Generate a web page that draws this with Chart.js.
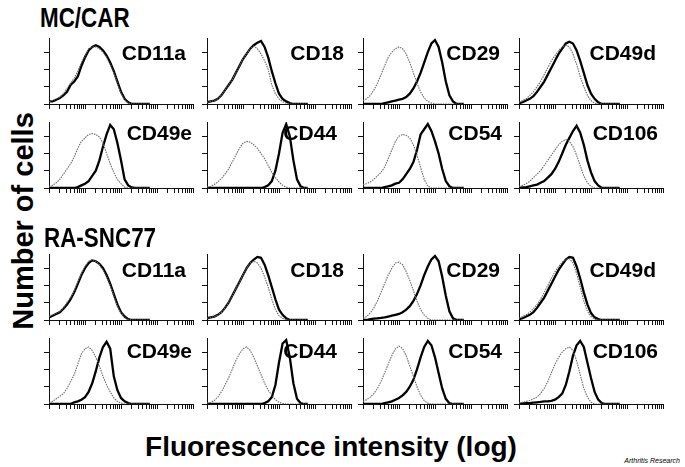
<!DOCTYPE html>
<html><head><meta charset="utf-8">
<script src="https://cdn.jsdelivr.net/npm/chart.js@4/dist/chart.umd.min.js"></script>
<style>
body{margin:0;background:#fff;width:685px;height:467px;overflow:hidden;position:relative;font-family:"Liberation Sans",Arial,sans-serif;}
canvas.p{position:absolute;}
.t{position:absolute;font-weight:bold;color:#000;white-space:nowrap;line-height:1;}
</style></head><body>
<script>
// log10 fluorescence bin centres (decades)
const bins = [0,0.1,0.2,0.3,0.4,0.5,0.6,0.7,0.8,0.9,1.0,1.1,1.2,1.3,1.4,1.5,1.6,1.7,1.8,1.9,2.0,2.1,2.2,2.3,2.4,2.5,2.6,2.7,2.8];
const decades = [1,10,100,1000];
const minorSteps = [1,2,3,4,5,6,7,8,9];
const yTickValues = [0,10,20,30];
const markers = ["CD11a","CD18","CD29","CD49d","CD49e","CD44","CD54","CD106"];
const groups = ["MC/CAR","RA-SNC77"];

// MC/CAR  (control = grey, stained = black)
const mc_CD11a_ctrl  = [1.5,2,3,4,6,9,12,15,19,24,28,32,33,33,32,30,27,23,18,12,6,2.5,0.5,0,0,0,0,0,0];
const mc_CD11a_stain = [1.5,1.5,2.5,3.5,5,7,11,13,16,22,27,31,33,34,33,31,28,24,19,13,7,3,1,0,0,0,0,0,0];
const mc_CD18_ctrl   = [1,1.5,2,3,5,8,11,14,18,22,26,29,32,33.5,32,29,25,20,11,6,3,1.3,0.5,0,0,0,0,0,0];
const mc_CD18_stain  = [1,1.5,2,3,5,8,11,14,18,22,26,29,32,34,35.5,36.5,33,27,19,12,6,3,1.5,0.5,0,0,0,0,0];
const mc_CD29_ctrl   = [2,3,5,8,12,17,22,27,30,32,33,32,29,24,18,12,7,3.5,1.5,0.5,0,0,0,0,0,0,0,0,0];
const mc_CD29_stain  = [0,0,0,0,0,0,0.5,1,1.5,2,2.5,3,4,6,9,13,18,24,30,35,37,33,24,13,5,1.5,0,0,0];
const mc_CD49d_ctrl  = [1,2,3,5,7,10,13,17,21,25,28,31,33,34,33,29,23,16,10,5,2,0.5,0,0,0,0,0,0,0];
const mc_CD49d_stain = [0.5,1,2,3,4.5,7,10,13,17,21,25,29,32,35,36,35,31,25,18,11,6,3,1,0,0,0,0,0,0];
const mc_CD49e_ctrl  = [1,1.5,3,5,8,11,14,18,23,27,29,31,31.5,31,29.5,26,20,14,9,5,2.5,0.5,0,0,0,0,0,0,0];
const mc_CD49e_stain = [0,0,0,0,0,0,0,0,0.5,1.5,2.5,4,7,10,16,24,31,36.5,34,26,16,5,1.5,0.3,0,0,0,0,0];
const mc_CD44_ctrl   = [0.5,1,2,3.5,5.5,8,11,15,19,23,26,27,26.5,25,23,20,17,13,9,6,3.5,1.5,0.5,0,0,0,0,0,0];
const mc_CD44_stain  = [0,0,0,0,0,0,0,0,0,0,0,0,0,0,0,0,0.5,1.5,4,10,20,32,37,30,16,5,1,0,0];
const mc_CD54_ctrl   = [2,2.5,3.5,5,7,9,12,17,22,27,30,31,30.5,29,25,19,12,5,1,0,0,0,0,0,0,0,0,0,0];
const mc_CD54_stain  = [0,0,0,0,0,0,0.5,1,1.5,2.5,3,5,8,11,15,22,31,34,37,33,27,20,11,4,1,0,0,0,0];
const mc_CD106_ctrl  = [1,1.5,2.5,4,6,8,10,13,16,19,22,25,27,28,27,24,19,13,7,3,1,0,0,0,0,0,0,0,0];
const mc_CD106_stain = [0,0.3,0.5,1,1.5,2,3,4,6,8,11,15,20,25,29,33,36,32,25,16,9,4,1.5,0,0,0,0,0,0];

// RA-SNC77
const ra_CD11a_ctrl  = [2,3,4,5,7,10,13,17,22,27,31,34,35,34,32,29,25,20,14,8,4,1.5,0.3,0,0,0,0,0,0];
const ra_CD11a_stain = [1.5,2.5,3.5,4.5,6.5,9,12,16,21,26,30,33,34.5,34,32.5,30,26,21,15,9,4.5,2,0.5,0,0,0,0,0,0];
const ra_CD18_ctrl   = [1,1.5,2,3,4.5,7,10,14,18,22,26,30,33,34,33,30,25,19,12,6,2.5,1,0,0,0,0,0,0,0];
const ra_CD18_stain  = [1,1.5,2,3,4.5,7,10,14,18,22,26,30,33,35,36.5,36,32,26,19,12,6,3,1,0,0,0,0,0,0];
const ra_CD29_ctrl   = [1,2,4,7,11,16,21,26,30,33,33.5,32,28,23,17,11,6,3,1,0,0,0,0,0,0,0,0,0,0];
const ra_CD29_stain  = [0,0,0.5,0.8,1,1.2,1.5,2,2.5,3,3.5,4.5,6,8,11,15,20,26,31,35,37,34,25,14,5,1,0,0,0];
const ra_CD49d_ctrl  = [1,2,3,4.5,6.5,9,12,16,20,24,28,31,33.5,35,35.5,33,27,19,11,5,2,0.5,0,0,0,0,0,0,0];
const ra_CD49d_stain = [0.5,1,2,3,4.5,7,10,13,17,21,25,29,32,35,36.5,36,31,24,16,9,4,1.5,0.5,0,0,0,0,0,0];
const ra_CD49e_ctrl  = [1,1.5,3,4.5,6,9,13,17,23,29,32,33,31,27,22,16,11,7,3.5,1.5,0.5,0,0,0,0,0,0,0,0];
const ra_CD49e_stain = [0,0,0,0,0,0,0,1,1.5,2.5,4,7,12,19,27,33,36,32,16,8,3.5,1.5,0.5,0,0,0,0,0,0];
const ra_CD44_ctrl   = [0.5,1,2,4,7,11,15,20,25,29,32,33,31,27,22,17,12,8,5,2.5,1,0.3,0,0,0,0,0,0,0];
const ra_CD44_stain  = [0,0,0,0,0,0,0,0,0,0,0,0,0,0,0,0,0.5,1.5,4,11,24,35,37,27,12,3,0.5,0,0];
const ra_CD54_ctrl   = [1.5,2.5,4,6,9,13,18,23,28,32,33.5,32,28,22,16,10,5,2,0.5,0,0,0,0,0,0,0,0,0,0];
const ra_CD54_stain  = [0,0,0,0,0,0,0.5,1,1.5,2.5,3.5,5,7,10,14,20,27,33,36.5,34,27,18,9,3,0.5,0,0,0,0];
const ra_CD106_ctrl  = [0.5,1,1.5,2,3,4,6,9,13,18,23,27,30,32,33,31,25,17,9,4,1,0,0,0,0,0,0,0,0];
const ra_CD106_stain = [0,0.3,0.5,0.5,0.8,1,1.2,1.5,1.5,1.8,2.5,4,6,11,19,28,34,36.5,33,24,15,7,2.5,0.5,0,0,0,0,0];

const panels = [
  [mc_CD11a_ctrl, mc_CD11a_stain], [mc_CD18_ctrl, mc_CD18_stain], [mc_CD29_ctrl, mc_CD29_stain], [mc_CD49d_ctrl, mc_CD49d_stain],
  [mc_CD49e_ctrl, mc_CD49e_stain], [mc_CD44_ctrl, mc_CD44_stain], [mc_CD54_ctrl, mc_CD54_stain], [mc_CD106_ctrl, mc_CD106_stain],
  [ra_CD11a_ctrl, ra_CD11a_stain], [ra_CD18_ctrl, ra_CD18_stain], [ra_CD29_ctrl, ra_CD29_stain], [ra_CD49d_ctrl, ra_CD49d_stain],
  [ra_CD49e_ctrl, ra_CD49e_stain], [ra_CD44_ctrl, ra_CD44_stain], [ra_CD54_ctrl, ra_CD54_stain], [ra_CD106_ctrl, ra_CD106_stain]
];

// layout
const colX = [49, 207, 363, 519];
const rowT = [38, 122, 254, 338];
const plotW = 144, plotH = 66;
const labelDy = [7, 3, 8, 5];
const labelDx = [0, 0, 0, 0, 6, -7, 2, 2];
const PADL = 3, PADT = 3, PADR = 4, PADB = 3, TICK = 5;

const xTickValues = [];
decades.forEach(d => minorSteps.forEach(m => xTickValues.push(d * m)));
xTickValues.push(10000);

function addText(txt, css) {
  const d = document.createElement('div');
  d.className = 't';
  d.textContent = txt;
  Object.assign(d.style, css);
  document.body.appendChild(d);
  return d;
}

panels.forEach((pair, i) => {
  const r = Math.floor(i / 4), c = i % 4;
  const x0 = colX[c], top = rowT[r];
  const cv = document.createElement('canvas');
  cv.className = 'p';
  const W = PADL + TICK + plotW + PADR, H = PADT + plotH + TICK + PADB;
  cv.width = W; cv.height = H;
  cv.style.left = (x0 - PADL - TICK) + 'px';
  cv.style.top = (top - PADT) + 'px';
  cv.style.width = W + 'px'; cv.style.height = H + 'px';
  document.body.appendChild(cv);
  const toPts = arr => arr.map((v, k) => ({x: Math.pow(10, bins[k]), y: v}));
  new Chart(cv, {
    type: 'line',
    data: {datasets: [
      {data: toPts(pair[0]), borderColor: '#6a6a6a', borderWidth: 1.1, borderDash: [1.5, 1], pointRadius: 0, tension: 0},
      {data: toPts(pair[1]), borderColor: '#000', borderWidth: 2.3, pointRadius: 0, tension: 0}
    ]},
    options: {
      responsive: false, animation: false, events: [],
      layout: {padding: {left: PADL, top: PADT, right: PADR, bottom: PADB}},
      plugins: {legend: {display: false}, tooltip: {enabled: false}},
      scales: {
        x: {type: 'logarithmic', min: 1, max: 10000,
            afterBuildTicks: s => { s.ticks = xTickValues.map(v => ({value: v})); },
            ticks: {display: false},
            grid: {drawOnChartArea: false, drawTicks: true, tickLength: TICK, color: '#111', lineWidth: 1},
            border: {color: '#111', width: 1}},
        y: {min: 0, max: 38.2,
            afterBuildTicks: s => { s.ticks = yTickValues.map(v => ({value: v})); },
            ticks: {display: false},
            grid: {drawOnChartArea: false, drawTicks: true, tickLength: TICK, color: '#111', lineWidth: 1},
            border: {color: '#111', width: 1}}
      }
    }
  });
  addText(markers[i % 8], {left: (x0 + 37 + labelDx[i % 8]) + 'px', width: '100px', textAlign: 'right', top: (top + labelDy[r] - 3) + 'px', fontSize: '21px'});
});

addText(groups[0], {left: '40px', top: '5px', fontSize: '27px', transform: 'scaleX(0.83)', transformOrigin: 'left top'});
addText(groups[1], {left: '44px', top: '225px', fontSize: '27px', transform: 'scaleX(0.83)', transformOrigin: 'left top'});
addText('Number of cells', {left: '23px', top: '221px', fontSize: '29px', transform: 'translate(-50%,-50%) rotate(-90deg)'});
addText('Fluorescence intensity (log)', {left: '331px', top: '433px', fontSize: '28px', transform: 'translateX(-50%)'});
addText('Arthritis Research', {left: '580px', width: '100px', textAlign: 'right', top: '457px', fontSize: '7px', fontWeight: 'normal', fontStyle: 'italic'});
</script>
</body></html>
